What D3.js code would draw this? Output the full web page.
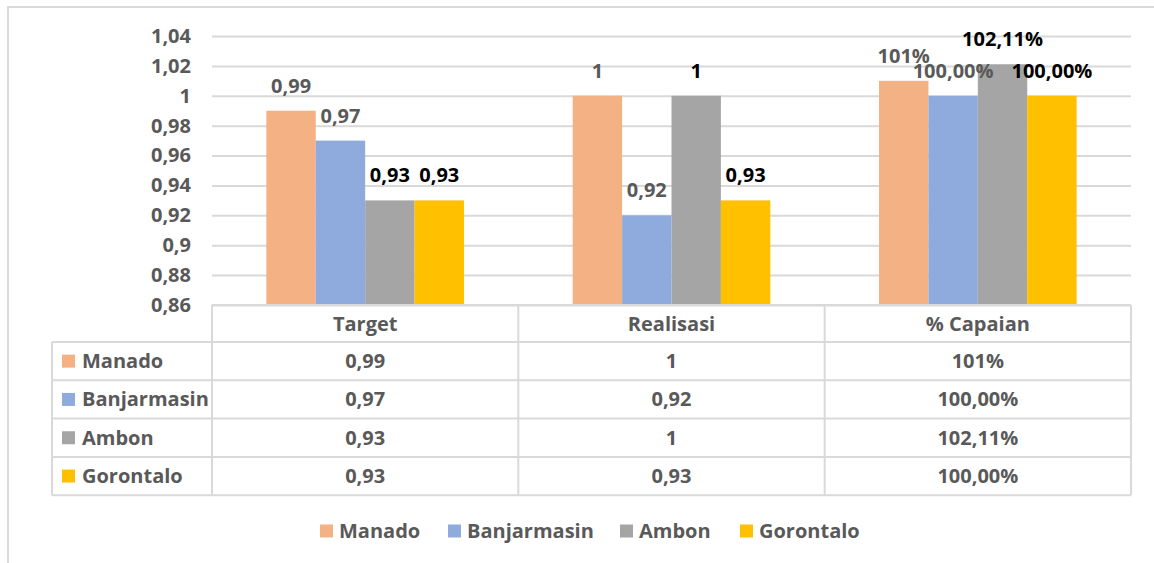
<!DOCTYPE html>
<html>
<head>
<meta charset="utf-8">
<script src="https://cdn.jsdelivr.net/npm/d3@7"></script>
<style>
  body { margin: 0; background: #fff; }
  svg text { font-family: "Open Sans", Lato, sans-serif; font-weight: 700; fill: #595959; }
</style>
</head>
<body>
<svg id="chart" width="1154" height="563"></svg>
<script>
// categories and series
const categories = ["Target", "Realisasi", "% Capaian"];
const series = ["Manado", "Banjarmasin", "Ambon", "Gorontalo"];
const colors = ["#F4B183", "#8FAADC", "#A5A5A5", "#FFC000"];

// values per series, one per category
const manado = [0.99, 1, 1.01];
const banjarmasin = [0.97, 0.92, 1.00];
const ambon = [0.93, 1, 1.0211];
const gorontalo = [0.93, 0.93, 1.00];

// labels as shown on the chart / table
const manadoLabels = ["0,99", "1", "101%"];
const banjarmasinLabels = ["0,97", "0,92", "100,00%"];
const ambonLabels = ["0,93", "1", "102,11%"];
const gorontaloLabels = ["0,93", "0,93", "100,00%"];

// labels of Ambon and Gorontalo are drawn black
const labelColors = ["#595959", "#595959", "#000000", "#000000"];

const yTicks = [0.86, 0.88, 0.9, 0.92, 0.94, 0.96, 0.98, 1, 1.02, 1.04];
const yTickLabels = ["0,86", "0,88", "0,9", "0,92", "0,94", "0,96", "0,98", "1", "1,02", "1,04"];

const values = [manado, banjarmasin, ambon, gorontalo];
const labels = [manadoLabels, banjarmasinLabels, ambonLabels, gorontaloLabels];

const layout = {left: 212, right: 1131, top: 36, bottom: 305, rowH: 38.3, headH: 37, tableLeft: 52};
const grid = "#d9d9d9";
const fontSize = "20px";

const svg = d3.select("#chart");

// outer frame (only top and left visible)
svg.append("path")
  .attr("d", "M8,563V7H1154")
  .attr("fill", "none").attr("stroke", grid).attr("stroke-width", 2);

const x = d3.scaleBand().domain(categories).range([layout.left, layout.right]);
const groupW = x.bandwidth() * 0.645;
const xInner = d3.scaleBand().domain(series).range([0, groupW]);

const y = d3.scaleLinear().domain([0.86, 1.04]).range([layout.bottom, layout.top]);

// y axis with gridlines
const yAxis = svg.append("g")
  .attr("transform", `translate(${layout.left},0)`)
  .call(d3.axisLeft(y).tickValues(yTicks)
    .tickFormat((d, i) => yTickLabels[i])
    .tickSize(-(layout.right - layout.left)).tickPadding(21));
yAxis.select(".domain").remove();
yAxis.selectAll(".tick line").attr("stroke", grid).attr("stroke-width", 2);
yAxis.selectAll(".tick text")
  .style("font-size", fontSize).attr("fill", "#595959");

// bars
const barData = [];
series.forEach((s, si) => {
  categories.forEach((c, ci) => {
    barData.push({s, si, c, v: values[si][ci], label: labels[si][ci]});
  });
});

const barX = d => x(d.c) + (x.bandwidth() - groupW) / 2 + xInner(d.s);

svg.append("g").selectAll("rect")
  .data(barData)
  .join("rect")
  .attr("x", barX)
  .attr("y", d => y(d.v))
  .attr("width", xInner.bandwidth())
  .attr("height", d => y(0.86) - y(d.v))
  .attr("fill", d => colors[d.si]);

svg.append("g").selectAll("text")
  .data(barData)
  .join("text")
  .attr("x", d => barX(d) + xInner.bandwidth() / 2)
  .attr("y", d => y(d.v) - 18)
  .attr("text-anchor", "middle")
  .style("font-size", fontSize)
  .style("fill", d => labelColors[d.si])
  .text(d => d.label);

// data table
const table = svg.append("g");
const rowTop = i => layout.bottom + layout.headH + i * layout.rowH;
const tableBottom = rowTop(series.length);

// horizontal lines
table.append("line")
  .attr("x1", layout.left).attr("x2", layout.right)
  .attr("y1", layout.bottom).attr("y2", layout.bottom);
d3.range(series.length + 1).forEach(i => {
  table.append("line")
    .attr("x1", layout.tableLeft).attr("x2", layout.right)
    .attr("y1", rowTop(i)).attr("y2", rowTop(i));
});
// vertical lines
table.append("line")
  .attr("x1", layout.tableLeft).attr("x2", layout.tableLeft)
  .attr("y1", rowTop(0)).attr("y2", tableBottom);
[...categories.map(c => x(c)), layout.right].forEach(xv => {
  table.append("line")
    .attr("x1", xv).attr("x2", xv)
    .attr("y1", layout.bottom).attr("y2", tableBottom);
});
table.selectAll("line").attr("stroke", grid).attr("stroke-width", 2);

// header
table.selectAll(".head")
  .data(categories)
  .join("text")
  .attr("class", "head")
  .attr("x", d => x(d) + x.bandwidth() / 2)
  .attr("y", layout.bottom + layout.headH / 2)
  .attr("dy", "0.35em")
  .attr("text-anchor", "middle")
  .style("font-size", fontSize)
  .text(d => d);

// row keys and values
series.forEach((s, si) => {
  const cy = rowTop(si) + layout.rowH / 2;
  table.append("rect")
    .attr("x", 62).attr("y", cy - 6.5)
    .attr("width", 13).attr("height", 13)
    .attr("fill", colors[si]);
  table.append("text")
    .attr("x", 82).attr("y", cy).attr("dy", "0.35em")
    .style("font-size", fontSize)
    .text(s);
  table.selectAll(null)
    .data(categories)
    .join("text")
    .attr("x", d => x(d) + x.bandwidth() / 2)
    .attr("y", cy).attr("dy", "0.35em")
    .attr("text-anchor", "middle")
    .style("font-size", fontSize)
    .text((d, ci) => labels[si][ci]);
});

// legend
const legendX = [320, 448, 620, 740];
const legend = svg.append("g").selectAll("g")
  .data(series)
  .join("g")
  .attr("transform", (d, i) => `translate(${legendX[i]},531)`);
legend.append("rect")
  .attr("y", -6.5).attr("width", 13).attr("height", 13)
  .attr("fill", (d, i) => colors[i]);
legend.append("text")
  .attr("x", 19).attr("dy", "0.35em")
  .style("font-size", fontSize)
  .text(d => d);
</script>
</body>
</html>
